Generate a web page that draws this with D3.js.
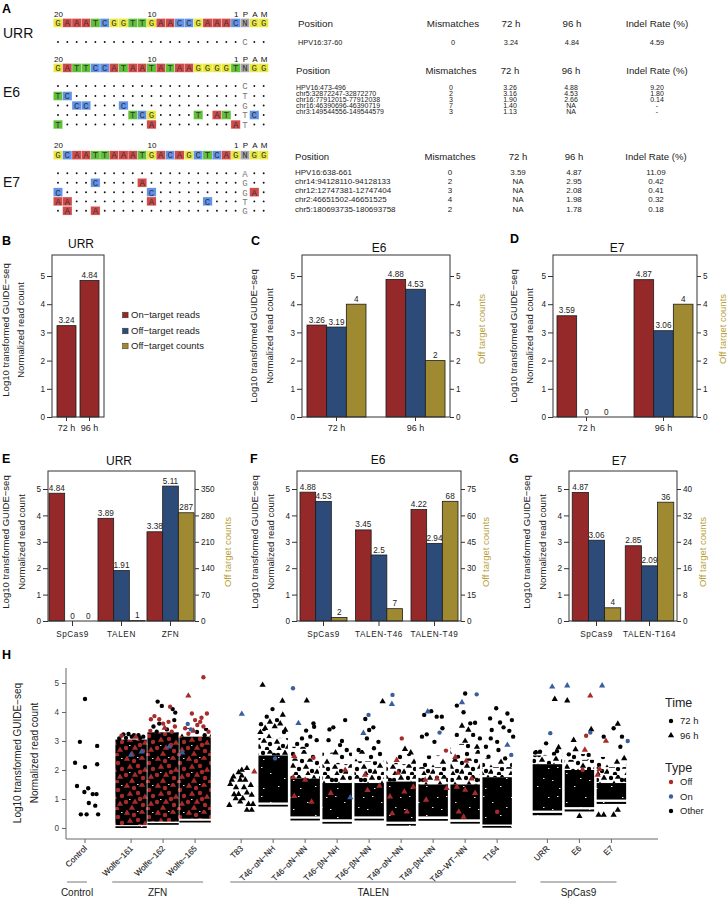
<!DOCTYPE html>
<html><head><meta charset="utf-8">
<script src="https://cdn.jsdelivr.net/npm/d3@7"></script>
<style>
body{margin:0;background:#fff;}
</style></head><body>
<svg id="fig" width="727" height="898"></svg>
<script>
// ================= DATA =================
// Panel A : guide sequences and off-target alignments
const seqURR = "GAAATCGGTTGAACCGAAACNGG";
const seqE6  = "GATTCCATAATATAAGGGGTNGG";
const seqE7  = "GCAATTAAATGACAGCTCAGNGG";
const rowsURR = ["....................C.."];
const rowsE6 = ["....................C..","TC..................T..","..CC...C............G..","........TCG....T.AT.TC.","T.........A........AT.."];
const rowsE7 = ["....................A..","....C....A..........G..","C.........C.........GA.","AA........A.....C...T..",".A..A...............G.."];
const tableHead = ["Position","Mismatches","72 h","96 h","Indel Rate (%)"];
const tabURR = [["HPV16:37-60","0","3.24","4.84","4.59"]];
const tabE6 = [["HPV16:473-496","0","3.26","4.88","9.20"],["chr5:32872247-32872270","2","3.16","4.53","1.80"],["chr16:77912015-77912038","3","1.90","2.66","0.14"],["chr16:46390696-46390719","7","1.40","NA","-"],["chr3:149544556-149544579","3","1.13","NA","-"]];
const tabE7 = [["HPV16:638-661","0","3.59","4.87","11.09"],["chr14:94128110-94128133","2","NA","2.95","0.42"],["chr12:12747381-12747404","3","NA","2.08","0.41"],["chr2:46651502-46651525","4","NA","1.98","0.32"],["chr5:180693735-180693758","2","NA","1.78","0.18"]];

// Panels B-D
const timeCats = ["72 h","96 h"];
const bOn = [3.24, 4.84];
const cOn = [3.26, 4.88], cOff = [3.19, 4.53], cCnt = [4, 2];
const dOn = [3.59, 4.87], dOff = [0, 3.06], dCnt = [0, 4];
// Panels E-G
const eCats = ["SpCas9","TALEN","ZFN"];
const eOn = [4.84, 3.89, 3.38], eOff = [0, 1.91, 5.11], eCnt = [0, 1, 287];
const fCats = ["SpCas9","TALEN-T46","TALEN-T49"];
const fOn = [4.88, 3.45, 4.22], fOff = [4.53, 2.5, 2.94], fCnt = [2, 7, 68];
const gCats = ["SpCas9","TALEN-T164"];
const gOn = [4.87, 2.85], gOff = [3.06, 2.09], gCnt = [4, 36];
const readTicks = [0,1,2,3,4,5];
const cdCntTicks = [0,1,2,3,4,5];
const eCntTicks = [0,70,140,210,280,350];
const fCntTicks = [0,15,30,45,60,75];
const gCntTicks = [0,8,16,24,32,40];
const seriesNames = ["On\u2212target reads","Off\u2212target reads","Off\u2212target counts"];

// Panel H
const hCats = ["Control","Wolfe\u2212161","Wolfe\u2212162","Wolfe\u2212165","T83","T46\u2212\u03b1N\u2212NH","T46\u2212\u03b1N\u2212NN","T46\u2212\u03b2N\u2212NH","T46\u2212\u03b2N\u2212NN","T49\u2212\u03b1N\u2212NN","T49\u2212\u03b2N\u2212NN","T49\u2212WT\u2212NN","T164","URR","E6","E7"];
const hSectionOf = ["Control","ZFN","ZFN","ZFN","TALEN","TALEN","TALEN","TALEN","TALEN","TALEN","TALEN","TALEN","TALEN","SpCas9","SpCas9","SpCas9"];
const hSections = ["Control","ZFN","TALEN","SpCas9"];
// dense point clouds, read as value bands [low, high, texture]  (s = solid black, m = scattered, l = sparse, z = red/black mix)
const hBands = [
  [],
  [[0.0,0.06,"s"],[0.1,3.05,"z"]],
  [[0.11,0.17,"s"],[0.22,3.3,"z"]],
  [[0.19,0.25,"s"],[0.32,3.15,"z"],[3.15,3.45,"l"]],
  [],
  [[0.74,0.8,"s"],[0.88,2.5,"s"],[2.5,3.1,"m"],[3.1,3.4,"l"]],
  [[0.26,0.32,"s"],[0.4,1.7,"s"],[1.7,2.4,"m"],[2.4,2.8,"l"]],
  [[0.15,0.21,"s"],[0.3,1.55,"s"],[1.55,2.2,"m"],[2.2,2.6,"l"]],
  [[0.26,0.32,"s"],[0.4,1.55,"s"],[1.55,2.3,"m"],[2.3,2.7,"l"]],
  [[0.08,0.14,"s"],[0.22,1.6,"s"],[1.6,2.2,"m"],[2.2,2.55,"l"]],
  [[0.25,0.31,"s"],[0.4,1.5,"s"],[1.5,2.1,"m"],[2.1,2.5,"l"]],
  [[0.15,0.21,"s"],[0.3,1.5,"s"],[1.5,2.4,"m"],[2.4,2.9,"l"]],
  [[0.01,0.07,"s"],[0.12,1.75,"s"],[1.75,2.1,"m"],[2.1,2.4,"l"]],
  [[0.44,0.52,"s"],[0.6,2.2,"s"],[2.2,2.5,"m"],[2.5,2.7,"l"]],
  [[0.57,0.64,"s"],[0.72,2.0,"s"],[2.0,2.35,"m"],[2.35,2.55,"l"]],
  [[0.83,0.9,"s"],[0.98,1.55,"s"],[1.55,2.1,"m"],[2.1,2.45,"l"]]
];
// individual points: "jitter value shape+type"  shape c=72 h, t=96 h ; type x=Other, o=Off, n=On
const hPts = [
  "0 4.45 cx,-0.16 2.97 cx,-0.31 2.25 cx,0 2.1 cx,0.38 2.83 cx,0.38 2.2 cx,-0.25 1.45 cx,0.1 1.37 cx,-0.02 1.24 cx,0.24 1.17 cx,0.36 1.17 cx,0.12 0.86 cx,0.32 0.77 cx,-0.13 0.47 cx,0.05 0.47 cx,0.41 0.47 cx",
  "-0.24 3.23 cx,-0.08 3.24 cx,0.09 3.2 cx,0.23 3.2 cx,0.38 3.15 cx,-0.37 3.09 cx,-0.16 3.11 cx,0.02 3.15 cx,0.28 3.1 cx,-0.3 3.18 co,0.15 3.14 to,0 2.52 tn,0.33 2.63 tn",
  "-0.17 4.36 cx,-0.04 4.21 cx,0.22 4.18 co,0.3 4.1 cx,0.38 3.98 cx,-0.38 3.75 co,-0.27 3.86 co,-0.3 3.5 cx,-0.12 3.75 co,-0.12 3.6 cx,0 3.6 co,0.17 3.66 co,0.35 3.72 cx,0.37 3.5 co,0.27 3.32 co,0.12 3.4 cx,-0.2 3.32 cx,-0.4 3.35 co,0.05 3.45 to,0.19 2.8 tn",
  "0.26 5.2 co,-0.21 4.56 to,-0.1 3.95 co,0.37 3.95 co,0 3.72 co,0.16 3.66 co,-0.31 3.44 co,0.26 3.5 co,0.07 3.55 co,0.42 3.32 co,-0.21 3.25 co,0.3 3.2 cx,-0.05 3.35 to,0.2 3.8 co,-0.23 3.59 cn,-0.13 3.4 cn,-0.4 2.6 tn",
  "-0.37 0.79 tx,-0.29 1.66 tx,-0.34 1.51 tx,-0.16 1.4 tx,-0.22 1.16 tx,-0.08 1.92 tx,0.02 2.0 tx,0.18 2.06 tx,0.02 1.8 tx,-0.03 1.66 tx,0.13 1.66 tx,0.09 1.4 tx,-0.08 1.17 tx,0.05 1.02 tx,-0.03 0.91 tx,0.18 1.22 tx,0.3 1.48 tx,0.33 1.14 tx,0.23 0.82 tx,0.37 0.82 tx,0.18 0.62 tx,0.33 0.62 tx,-0.24 1.77 tx,-0.17 1.02 tx,0.41 1.94 to,0.02 3.93 tn",
  "-0.33 4.93 tx,0.29 4.38 tx,-0.02 4.1 cx,-0.38 3.58 cx,0.3 3.9 tx,-0.2 3.84 cx,-0.1 3.66 tx,0.12 3.72 cx,-0.25 3.44 tx,0.22 3.6 tx,0.38 3.38 tx,0.05 3.5 tx,-0.4 3.3 tx,0.06 2.4 cn",
  "-0.38 4.82 cn,0.05 4.39 tx,-0.21 3.61 tn,0.03 3.36 cx,0.26 3.61 cx,0.28 3.49 cx,-0.1 3.09 cx,0.16 3.15 cx,0.36 3.03 cx,0.05 2.86 cx,-0.25 2.9 cx,-0.34 2.48 to,-0.37 1.75 to,0.26 2.42 co,-0.34 1.1 to,0 1.66 to,0.2 0.9 to",
  "0.25 3.72 cx,-0.12 3.47 cx,-0.24 3.4 cx,-0.27 3.03 cx,0.15 3.0 cx,0.3 2.69 cx,0.09 2.86 cx,-0.05 2.6 tx,0.41 1.05 tn,0.25 2.0 to,-0.2 1.2 to",
  "0.42 4.36 tx,-0.02 3.9 cn,-0.18 3.27 tn,-0.12 3.76 cx,0.13 3.47 cx,0 3.38 cx,-0.07 3.09 cx,-0.33 2.69 cx,0.29 2.97 cx,0.15 2.75 cx,-0.13 1.83 to,0.32 1.45 to,-0.05 1.3 to",
  "-0.27 4.59 cn,-0.29 4.27 tn,0.02 3.09 co,0.12 2.72 tx,-0.14 2.34 to,0.3 2.6 tx,-0.35 1.08 to,0.38 1.42 to,0.18 0.56 to,-0.1 1.9 to,0.1 1.25 to,-0.28 0.5 to",
  "-0.17 4.01 tn,-0.06 4.03 cx,-0.28 3.9 cx,0.11 3.84 cx,0.27 3.84 cx,0.2 3.29 cn,-0.2 3.23 cx,-0.35 3.15 cx,0.04 2.97 cx,0.29 3.44 cx,0.4 2.67 co,-0.25 1.66 to,0.42 1.37 to,-0.22 0.97 to,0.12 1.7 to",
  "0 4.64 cx,0.36 4.61 cn,-0.1 4.33 tn,-0.26 4.22 cx,-0.05 3.99 cx,-0.1 3.52 tx,0.16 3.61 cx,0.31 3.63 cx,0.1 3.38 tx,-0.26 3.21 cx,0.25 3.21 cx,0.46 3.09 cx,0 3.0 tx,-0.31 2.44 to,0.03 2.31 to,-0.26 1.42 to,0 1.31 to,0.31 1.2 to,-0.2 0.56 to,-0.05 0.38 to,0.2 1.7 to",
  "-0.03 4.13 cx,-0.22 3.78 cx,0.32 3.95 cx,0.46 3.72 cx,0.09 3.64 cx,-0.17 3.38 cx,0.2 3.47 cx,-0.2 3.09 cx,0 2.97 cx,0.04 2.69 cx,0.32 2.86 tn,0.44 2.52 cn,-0.27 2.46 cx,0.5 3.15 cx,0.38 3.35 cx,-0.35 2.8 cx,0.25 2.4 cx,0 0.56 co",
  "0.15 4.87 tn,0.23 4.44 tx,0.09 3.27 cn,-0.04 2.92 cx,0.35 2.78 tx,-0.23 2.63 cx,0.3 2.65 cx,-0.38 2.6 cx",
  "-0.38 4.91 tn,-0.38 4.39 tx,0.34 4.56 to,0.34 3.29 cn,0.37 3.4 tx,0.21 3.18 co,-0.18 3.03 tx,0.17 2.69 to,-0.12 2.71 tx,-0.33 2.54 cx,0.29 2.52 cx,0 0.41 tx,0.1 2.0 co",
  "-0.29 4.91 tn,0.2 3.59 tx,0.51 3.0 cn,0.07 3.44 cx,-0.17 3.0 to,-0.24 3.15 cx,0.33 3.15 cx,0.28 2.8 cx,-0.37 2.03 to,-0.43 1.83 to,-0.4 0.45 tx,-0.24 0.45 tx,0.07 0.45 tx,0.2 0.62 tx,0.4 2.4 tx"
];
const hTicks = [0,1,2,3,4,5];
const timeLegend = ["72 h","96 h"];
const typeLegend = ["Off","On","Other"];

// ================= DRAWING =================
const FONT = '"Liberation Sans", Arial, Helvetica, sans-serif';
const svg = d3.select("#fig").attr("font-family", FONT);
svg.append("rect").attr("width",727).attr("height",898).attr("fill","#fff");
const defs = svg.append("defs");

function txt(g, x, y, s, o = {}) {
  const t = g.append("text").attr("x", x).attr("y", y).text(s)
    .attr("font-size", o.size || 9).attr("fill", o.fill || "#222")
    .attr("text-anchor", o.anchor || "start");
  if (o.weight) t.attr("font-weight", o.weight);
  if (o.family) t.attr("font-family", o.family);
  if (o.rotate != null) t.attr("transform", `rotate(${o.rotate},${x},${y})`);
  if (o.ls) t.attr("letter-spacing", o.ls);
  if (o.stroke) t.attr("stroke", o.stroke).attr("stroke-width", 0.12);
  return t;
}

// ---------- Panel A ----------
const gA = svg.append("g");
txt(gA, 2, 13, "A", {size: 12.5, weight: "bold", fill: "#000"});
const baseCol = {A: "#D24B4B", C: "#6293E8", G: "#E9E93E", T: "#61C03A", N: "#A8A8A8"};
const cell = d3.scaleBand().domain(d3.range(23)).range([53.3, 53.3 + 23 * 9.35]);
const MONO = '"Liberation Mono", "DejaVu Sans Mono", monospace';

function seqBlock(seq, rows, numBase, boxTop, rowYs, label, labelY) {
  txt(gA, 3, labelY, label, {size: 14, fill: "#111"});
  [[0,"20"],[10,"10"],[19,"1"],[20,"P"],[21,"A"],[22,"M"]].forEach(([i, s]) =>
    txt(gA, cell(i) + cell.bandwidth() / 2 + 0.5, numBase, s, {size: 8, anchor: "middle", fill: "#111"}));
  const chars = seq.split("");
  gA.append("g").selectAll("rect").data(chars).join("rect")
    .attr("x", (d, i) => cell(i)).attr("y", boxTop).attr("width", cell.bandwidth()).attr("height", 8.8)
    .attr("fill", d => baseCol[d]).attr("stroke", "#fff").attr("stroke-width", 0.3);
  gA.append("g").selectAll("text").data(chars).join("text")
    .attr("x", (d, i) => cell(i) + cell.bandwidth() / 2).attr("y", boxTop + 7.3)
    .attr("text-anchor", "middle").attr("font-size", 9).attr("font-family", MONO).attr("fill", "#333").text(d => d);
  rows.forEach((r, ri) => {
    const yc = rowYs[ri];
    r.split("").forEach((ch, i) => {
      const cx = cell(i) + cell.bandwidth() / 2;
      if (ch === ".") {
        gA.append("circle").attr("cx", cx).attr("cy", yc).attr("r", 0.95).attr("fill", "#111");
      } else if (i === 20) {
        txt(gA, cx, yc + 3.3, ch, {size: 9, anchor: "middle", family: MONO, fill: "#777"});
      } else {
        gA.append("rect").attr("x", cell(i)).attr("y", yc - 4.4).attr("width", cell.bandwidth()).attr("height", 8.8)
          .attr("fill", baseCol[ch]).attr("stroke", "#fff").attr("stroke-width", 0.3);
        txt(gA, cx, yc + 3.3, ch, {size: 9, anchor: "middle", family: MONO, fill: "#333"});
      }
    });
  });
}
seqBlock(seqURR, rowsURR, 16.5, 18.5, [42], "URR", 38);
seqBlock(seqE6, rowsE6, 62, 63.5, [86, 96, 105.5, 115, 124.5], "E6", 97);
seqBlock(seqE7, rowsE7, 148, 150.8, [173.3, 182.7, 192.2, 201.4, 210.7], "E7", 187);

function table(head, rows, headY, rowYs, colX, hSize, dSize) {
  head.forEach((h, j) => txt(gA, colX[j], headY, h, {size: hSize, anchor: j === 0 ? "start" : "middle", fill: "#222"}));
  rows.forEach((r, i) => r.forEach((v, j) =>
    txt(gA, colX[j], rowYs[i], v, {size: dSize, anchor: j === 0 ? "start" : "middle", fill: "#222"})));
}
table(tableHead, tabURR, 26.5, [44.6], [298, 453, 511, 572, 657], 9.8, 7.4);
table(tableHead, tabE6, 73.5, [89.6, 95.6, 101.6, 107.6, 113.6], [296, 451, 510, 571, 657], 9.6, 7);
table(tableHead, tabE7, 159.5, [174.5, 183.8, 193.1, 202.4, 211.6], [295, 450, 518, 574, 656], 9.6, 8);

// ---------- Bar panels ----------
const colOn = "#952828", colOff = "#2D4B79", colCnt = "#A08A31", colCntTxt = "#B89F3A";
function styleAxis(sel, fs) {
  sel.attr("font-family", FONT);
  sel.select(".domain").remove();
  sel.selectAll(".tick line").attr("stroke", "#333");
  sel.selectAll(".tick text").attr("font-size", fs).attr("fill", "#222");
}
function barPanel(p) {
  const g = svg.append("g");
  const x0 = d3.scaleBand().domain(p.cats).range([p.left, p.right]).paddingInner(p.pi).paddingOuter(p.po);
  const x1 = d3.scaleBand().domain(d3.range(p.series.length)).range([0, x0.bandwidth()]);
  const y = d3.scaleLinear().domain([0, 5]).range([p.y0, p.y5]);
  const yR = d3.scaleLinear().domain([0, p.rMax || 5]).range([p.y0, p.y5]);
  p.series.forEach((s, si) => {
    const sc = s.right ? yR : y;
    const gs = g.append("g");
    gs.selectAll("rect").data(s.vals).join("rect")
      .attr("x", (d, i) => x0(p.cats[i]) + x1(si)).attr("width", x1.bandwidth())
      .attr("y", d => sc(d)).attr("height", d => Math.max(0, p.y0 - sc(d)))
      .attr("fill", s.color).attr("stroke", "#1b1b1b").attr("stroke-width", 0.8);
    gs.selectAll("text").data(s.vals).join("text")
      .attr("x", (d, i) => x0(p.cats[i]) + x1(si) + x1.bandwidth() / 2).attr("y", d => sc(d) - 2.5)
      .attr("text-anchor", "middle").attr("font-size", 8.2).attr("fill", "#222").text(d => String(d));
  });
  g.append("rect").attr("x", p.left).attr("y", p.top).attr("width", p.right - p.left).attr("height", p.y0 - p.top)
    .attr("fill", "none").attr("stroke", "#333").attr("stroke-width", 1);
  const la = g.append("g").attr("transform", `translate(${p.left},0)`)
    .call(d3.axisLeft(y).tickValues(readTicks).tickSize(5).tickPadding(2).tickFormat(d3.format("d")));
  styleAxis(la, 8.2);
  if (p.rTicks) {
    const ra = g.append("g").attr("transform", `translate(${p.right},0)`)
      .call(d3.axisRight(yR).tickValues(p.rTicks).tickSize(4).tickPadding(2).tickFormat(d3.format("d")));
    styleAxis(ra, 8.2);
    txt(g, p.rlabX, p.rlabY, "Off target counts", {size: 9.5, anchor: "middle", fill: colCntTxt, rotate: -90});
  }
  const xa = g.append("g").attr("transform", `translate(0,${p.y0})`)
    .call(d3.axisBottom(x0).tickSize(p.xTick).tickPadding(p.xPad));
  styleAxis(xa, p.xFont);
  if (p.xLs) xa.selectAll(".tick text").attr("letter-spacing", p.xLs);
  txt(g, p.ylab[0], p.ylabY, "Log10 transformed GUIDE\u2212seq", {size: p.ylabSize, anchor: "middle", fill: "#222", rotate: -90});
  txt(g, p.ylab[1], p.ylabY, "Normalized read count", {size: p.ylabSize, anchor: "middle", fill: "#222", rotate: -90});
  txt(g, p.letter[1], p.letter[2], p.letter[0], {size: 12.5, weight: "bold", fill: "#000"});
  txt(g, p.title[1], p.title[2], p.title[0], {size: 12, anchor: "middle", fill: "#111"});
  return g;
}
const sOn = v => ({vals: v, color: colOn});
const sOff = v => ({vals: v, color: colOff});
const sCnt = v => ({vals: v, color: colCnt, right: true});

const gB = barPanel({cats: timeCats, series: [sOn(bOn)], left: 52, right: 104, top: 255, y0: 417, y5: 276,
  pi: 0.174, po: 0.217, xTick: 4, xPad: 4, xFont: 9, ylab: [8.5, 24], ylabY: 330, ylabSize: 9.5,
  letter: ["B", 2, 245], title: ["URR", 81, 248]});
// legend of B
const lg = gB.append("g");
[colOn, colOff, colCnt].forEach((c, i) => {
  const yy = [315, 331, 346][i];
  lg.append("rect").attr("x", 122.5).attr("y", yy - 2.8).attr("width", 5.6).attr("height", 5.6).attr("fill", c).attr("stroke", "#333").attr("stroke-width", 0.5);
  txt(lg, 131, yy + 3.4, seriesNames[i], {size: 9.5, fill: "#222"});
});
barPanel({cats: timeCats, series: [sOn(cOn), sOff(cOff), sCnt(cCnt)], left: 302, right: 450, top: 255, y0: 417, y5: 276,
  pi: 0.253, po: 0.063, rMax: 5, rTicks: cdCntTicks, rlabX: 485, rlabY: 329, xTick: 4, xPad: 4, xFont: 9,
  ylab: [257, 272.5], ylabY: 336, ylabSize: 9.5, letter: ["C", 251, 245], title: ["E6", 379, 252]});
barPanel({cats: timeCats, series: [sOn(dOn), sOff(dOff), sCnt(dCnt)], left: 553, right: 697, top: 255, y0: 417, y5: 276,
  pi: 0.234, po: 0.052, rMax: 5, rTicks: cdCntTicks, rlabX: 725.5, rlabY: 329, xTick: 4, xPad: 4, xFont: 9,
  ylab: [517, 532.5], ylabY: 336, ylabSize: 9.5, letter: ["D", 510, 243], title: ["E7", 617, 252]});
barPanel({cats: eCats, series: [sOn(eOn), sOff(eOff), sCnt(eCnt)], left: 48, right: 195, top: 471, y0: 621, y5: 489,
  pi: 0.04, po: 0.02, rMax: 350, rTicks: eCntTicks, rlabX: 231, rlabY: 552, xTick: 5, xPad: 5, xFont: 8.2, xLs: 0.6,
  ylab: [9, 25], ylabY: 542, ylabSize: 9.5, letter: ["E", 2, 463], title: ["URR", 119, 465]});
barPanel({cats: fCats, series: [sOn(fOn), sOff(fOff), sCnt(fCnt)], left: 297, right: 461, top: 471, y0: 621, y5: 489,
  pi: 0.153, po: 0.054, rMax: 75, rTicks: fCntTicks, rlabX: 489, rlabY: 552, xTick: 5, xPad: 5, xFont: 8.2, xLs: 0.6,
  ylab: [258, 273.5], ylabY: 542, ylabSize: 9.5, letter: ["F", 250, 463], title: ["E6", 378, 464]});
barPanel({cats: gCats, series: [sOn(gOn), sOff(gOff), sCnt(gCnt)], left: 569, right: 677, top: 471, y0: 621, y5: 489,
  pi: 0.085, po: 0.061, rMax: 40, rTicks: gCntTicks, rlabX: 706, rlabY: 552, xTick: 5, xPad: 5, xFont: 8.2, xLs: 0.6,
  ylab: [530, 546], ylabY: 542, ylabSize: 9.5, letter: ["G", 509, 463], title: ["E7", 619, 465]});

// ---------- Panel H ----------
const redH = "#A82B2B", blueH = "#3B5E9E";
const typeColor = {x: "#000", o: redH, n: blueH};
const triPath = d3.symbol(d3.symbolTriangle, 17)();
const circPath = d3.symbol(d3.symbolCircle, 15)();
// textures used to render the over-plotted regions of each cloud
function texture(id, w, h, bg, marks) {
  const p = defs.append("pattern").attr("id", id).attr("patternUnits", "userSpaceOnUse").attr("width", w).attr("height", h);
  if (bg) p.append("rect").attr("width", w).attr("height", h).attr("fill", bg);
  marks.forEach(([mx, my, sh, c]) => {
    if (sh === "r") p.append("rect").attr("x", mx).attr("y", my).attr("width", 1.5).attr("height", 0.9).attr("fill", c);
    else p.append("path").attr("transform", `translate(${mx},${my})`).attr("d", sh === "t" ? triPath : circPath).attr("fill", c);
  });
}
const W = "#fff", K = "#000", R = redH;
texture("tex-s", 37, 29, K, [[4,5,"r",W],[19,3,"r",W],[30,14,"r",W],[11,19,"r",W],[25,24,"r",W],[2,13,"r",W],[34,26,"r",W]]);
texture("tex-z", 31, 27, K, [[3,3,"t",R],[10,5,"c",R],[18,2,"t",R],[25,7,"c",R],[6,11,"t",R],[14,10,"c",R],[21,14,"t",R],[29,13,"c",R],
  [2,19,"c",R],[11,19,"t",R],[19,22,"c",R],[27,21,"t",R],[8,25,"t",R],[16,16,"c",R],[24,26,"c",R],[13,1,"r",W],[28,2,"r",W],[5,16,"r",W]]);
texture("tex-m", 29, 25, null, [[2,3,"c",K],[9,2,"t",K],[17,5,"c",K],[24,3,"t",K],[5,9,"t",K],[12,11,"c",K],[20,10,"t",K],[27,13,"c",K],
  [3,16,"t",K],[9,19,"c",K],[16,17,"t",K],[22,21,"c",K],[13,5,"c",K],[27,22,"t",K],[6,24,"c",K],[18,24,"t",K]]);
texture("tex-l", 29, 25, null, [[3,4,"c",K],[14,2,"t",K],[23,7,"c",K],[8,12,"t",K],[19,15,"c",K],[27,18,"t",K],[4,21,"c",K],[13,22,"t",K]]);

const gH = svg.append("g");
txt(gH, 2, 659, "H", {size: 12.5, weight: "bold", fill: "#000"});
const sectionGap = {Control: 0, ZFN: 0.44, TALEN: 0.88, SpCas9: 1.45};
const slot = hCats.map((c, i) => i + sectionGap[hSectionOf[i]]);
const xH = d3.scaleLinear().domain([0, 1]).range([85, 117]);
const yH = d3.scaleLinear().domain([0, 5]).range([828, 683]);
const halfW = {Control: 0.46, ZFN: 0.49, TALEN: 0.46, SpCas9: 0.46};

// clouds
hBands.forEach((bands, i) => {
  const hw = halfW[hSectionOf[i]];
  bands.forEach(([lo, hi, k]) => {
    gH.append("rect").attr("x", xH(slot[i] - hw)).attr("width", xH(slot[i] + hw) - xH(slot[i] - hw))
      .attr("y", yH(hi)).attr("height", yH(lo) - yH(hi)).attr("fill", `url(#tex-${k})`);
  });
});
// points
const pts = [];
hPts.forEach((s, i) => s.split(",").forEach(e => {
  const [j, v, st] = e.trim().split(" ");
  pts.push({i, j: +j, v: +v, shape: st[0], type: st[1]});
}));
const order = {x: 0, o: 1, n: 2};
pts.sort((a, b) => order[a.type] - order[b.type]);
gH.append("g").selectAll("path").data(pts).join("path")
  .attr("transform", d => `translate(${xH(slot[d.i] + d.j)},${yH(d.v)})`)
  .attr("d", d => d.shape === "t" ? triPath : circPath)
  .attr("fill", d => typeColor[d.type]);

// axes
const yAx = gH.append("g").attr("transform", "translate(66,0)")
  .call(d3.axisLeft(yH).tickValues(hTicks).tickSize(4).tickPadding(3).tickFormat(d3.format("d")));
yAx.attr("font-family", FONT);
yAx.select(".domain").remove();
yAx.selectAll(".tick line").attr("stroke", "#666");
yAx.selectAll(".tick text").attr("font-size", 8.2).attr("fill", "#444");
gH.append("line").attr("x1", 66).attr("x2", 66).attr("y1", 668).attr("y2", 839).attr("stroke", "#666");
gH.append("line").attr("x1", 66).attr("x2", 658).attr("y1", 839).attr("y2", 839).attr("stroke", "#666");
hCats.forEach((c, i) => {
  const x = xH(slot[i]);
  gH.append("line").attr("x1", x).attr("x2", x).attr("y1", 839).attr("y2", 843).attr("stroke", "#666");
  txt(gH, x + 2.5, 849, c, {size: 8.2, anchor: "end", fill: "#1a1a1a", stroke: "#1a1a1a", rotate: -45});
});
const secPad = {Control: [-0.56, 0.06], ZFN: [-0.59, 0.25], TALEN: [-0.34, 0.59], SpCas9: [-0.22, 0.16]};
hSections.forEach(s => {
  const idx = hSectionOf.map((v, i) => v === s ? i : -1).filter(i => i >= 0);
  const xa = xH(slot[idx[0]] + secPad[s][0]), xb = xH(slot[idx[idx.length - 1]] + secPad[s][1]);
  gH.append("line").attr("x1", xa).attr("x2", xb).attr("y1", 882).attr("y2", 882).attr("stroke", "#777");
  txt(gH, (xa + xb) / 2, 896, s, {size: 10, anchor: "middle", fill: "#222"});
});
txt(gH, 21, 753, "Log10 transformed GUIDE\u2212seq", {size: 10, anchor: "middle", fill: "#222", rotate: -90});
txt(gH, 38, 753, "Normalized read count", {size: 10, anchor: "middle", fill: "#222", rotate: -90});

// legend
txt(gH, 665, 707, "Time", {size: 12.5, fill: "#222"});
timeLegend.forEach((t, i) => {
  const yy = 721 + i * 14.5;
  gH.append("path").attr("transform", `translate(671,${yy})`).attr("d", i === 0 ? circPath : triPath).attr("fill", "#000");
  txt(gH, 680, yy + 3.4, t, {size: 9.5, fill: "#222"});
});
txt(gH, 665, 772, "Type", {size: 12.5, fill: "#222"});
typeLegend.forEach((t, i) => {
  const yy = 782 + i * 14.5;
  gH.append("path").attr("transform", `translate(671,${yy})`).attr("d", circPath).attr("fill", [redH, blueH, "#000"][i]);
  txt(gH, 680, yy + 3.4, t, {size: 9.5, fill: "#222"});
});
</script>
</body></html>
